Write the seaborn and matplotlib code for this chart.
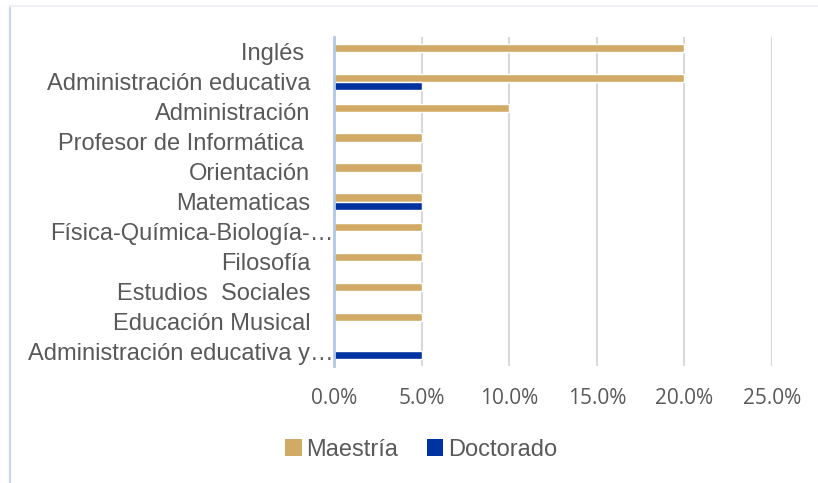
import pandas as pd
import seaborn as sns
import matplotlib.pyplot as plt
from matplotlib.patches import Patch
from matplotlib.lines import Line2D
from matplotlib.ticker import PercentFormatter
import matplotlib.transforms as mtransforms

# datos (porcentaje)
categorias = [
    "Inglés ",
    "Administración educativa",
    "Administración",
    "Profesor de Informática ",
    "Orientación",
    "Matematicas",
    "Física-Química-Biología-…",
    "Filosofía",
    "Estudios  Sociales",
    "Educación Musical",
    "Administración educativa y…",
]
maestria = [0.20, 0.20, 0.10, 0.05, 0.05, 0.05, 0.05, 0.05, 0.05, 0.05, 0.0]
doctorado = [0.0, 0.05, 0.0, 0.0, 0.0, 0.05, 0.0, 0.0, 0.0, 0.0, 0.05]
series = ["Maestría", "Doctorado"]
colores = ["#D1AB66", "#0033A0"]

df = pd.DataFrame({
    "categoria": categorias * 2,
    "valor": maestria + doctorado,
    "serie": [series[0]] * len(categorias) + [series[1]] * len(categorias),
})

sns.set_style("white")
plt.rcParams["font.family"] = ["Liberation Sans", "DejaVu Sans"]

fig = plt.figure(figsize=(8.18, 4.83), dpi=100)
ax = fig.add_axes([334 / 818, 1 - 366 / 483, (772 - 334) / 818, (366 - 37) / 483])

sns.barplot(
    data=df, y="categoria", x="valor", hue="serie",
    palette=colores, saturation=1, width=0.55, legend=False, ax=ax,
    orient="h",
)

ax.set_xlim(0, 0.25)
ax.set_ylim(10.5, -0.5)
ax.set_xticks([0, 0.05, 0.10, 0.15, 0.20, 0.25])
ax.xaxis.set_major_formatter(PercentFormatter(1.0, decimals=1))
ax.set_xlabel("")
ax.set_ylabel("")
ax.grid(axis="x", color="#D9D9D9", linewidth=1.5)
ax.set_axisbelow(True)
for s in ["top", "right", "bottom"]:
    ax.spines[s].set_visible(False)
ax.spines["left"].set_color("#B4C7E7")
ax.spines["left"].set_linewidth(2)
ax.spines["left"].set_zorder(5)

ax.tick_params(axis="x", length=0, pad=16, labelsize=15, labelcolor="#595959")
ax.tick_params(axis="y", length=0, pad=17, labelsize=17, labelcolor="#595959")
for lab in ax.get_xticklabels():
    lab.set_fontfamily(["Open Sans", "DejaVu Sans"])

# las etiquetas recortadas llegan hasta el eje
desplaza = mtransforms.ScaledTranslation(23 / 100, 0, fig.dpi_scale_trans)
for lab in ax.get_yticklabels():
    if lab.get_text().endswith("…"):
        lab.set_transform(lab.get_transform() + desplaza)

# leyenda
handles = [Patch(facecolor=c, edgecolor="none") for c in colores]
fig.legend(
    handles, series, loc="center", bbox_to_anchor=(421 / 818, 1 - 450 / 483),
    ncol=2, frameon=False, fontsize=17, labelcolor="#595959",
    handlelength=0.7, handleheight=0.7, handletextpad=0.2, columnspacing=1.2,
)

# borde del area del grafico
fig.add_artist(Line2D([10 / 818, 10 / 818], [0, 1 - 6 / 483], transform=fig.transFigure,
                      color="#C9D5EE", linewidth=1.5))
fig.add_artist(Line2D([10 / 818, 1], [1 - 6 / 483, 1 - 6 / 483], transform=fig.transFigure,
                      color="#EEF0F6", linewidth=1.5))

plt.savefig("out.png", dpi=100)
plt.close()
